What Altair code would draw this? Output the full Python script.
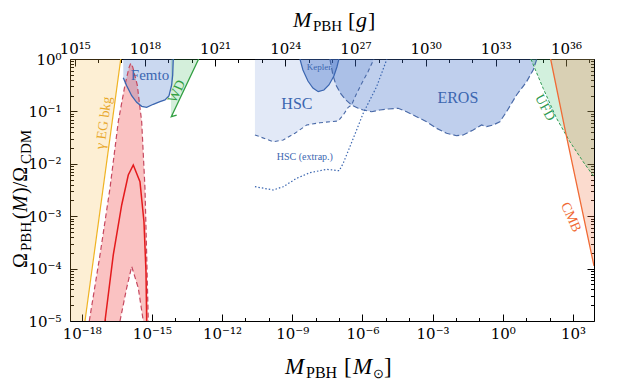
import altair as alt
import numpy as np
import pandas as pd

FONT = "Liberation Serif"
TICK_FONT = "DejaVu Serif"
MSUN_IN_GRAMS = 1.989e33
X_LOG_RANGE = [-18.5, 3.9]
Y_LOG_RANGE = [-5.0, 0.0]

# ---- data (log10 of M/Msun and log10 of f) ----
GAMMA_LOGM = [-17.86, -16.33]
GAMMA_LOGF = [-5.0, 0.0]

RED_OUT_LOGM = [-17.675, -17.218, -16.791, -16.436, -16.15, -15.98, -15.906, -15.82, -15.624, -15.436, -15.295, -15.222, -15.154]
RED_OUT_LOGF = [-5.0, -3.74, -2.466, -1.197, -0.496, -0.17, -0.082, -0.15, -0.496, -1.197, -2.466, -3.74, -5.0]
RED_HOLE_LOGM = [-16.363, -16.077, -15.863, -15.581, -15.368]
RED_HOLE_LOGF = [-5.0, -4.37, -3.96, -4.37, -5.0]
RED_MID_LOGM = [-17.004, -16.65, -16.29, -16.009, -15.795, -15.509, -15.338, -15.252, -15.222]
RED_MID_LOGF = [-5.0, -3.74, -2.786, -2.214, -2.023, -2.342, -3.105, -4.06, -5.0]

FEMTO_LOGM = [-16.222, -16.077, -15.863, -15.65, -15.436, -15.222, -14.94, -14.654, -14.44, -14.27, -14.154, -14.11, -14.085]
FEMTO_LOGF = [-0.357, -0.51, -0.70, -0.826, -0.903, -0.922, -0.864, -0.815, -0.782, -0.706, -0.496, -0.305, 0.0]

WD_FILL_LOGM = [-14.184, -13.0]
WD_FILL_LOGF = [-1.101, 0.0]
WD_LINE_LOGM = [-13.94, -14.17, -13.0]
WD_LINE_LOGF = [-1.069, -1.101, 0.0]

HSC_LOGM = [-10.594, -9.812, -9.385, -8.885, -8.385, -7.816, -7.034, -6.821, -6.607, -6.462, -6.278, -6.021, -5.765, -5.509]
HSC_LOGF = [-1.45, -1.578, -1.546, -1.418, -1.26, -1.216, -1.183, -1.069, -0.922, -0.878, -0.687, -0.458, -0.248, 0.0]

HSC_EXT_LOGM = [-10.594, -9.812, -9.385, -8.812, -8.244, -7.53, -6.991, -6.821, -6.534, -6.248, -5.966, -5.68, -5.393, -5.179, -4.996, -4.953]
HSC_EXT_LOGF = [-2.437, -2.5, -2.437, -2.277, -2.17, -2.105, -2.132, -1.99, -1.674, -1.355, -1.036, -0.782, -0.529, -0.273, -0.052, 0.0]

KEPLER_LOGM = [-8.671, -8.543, -8.329, -8.115, -7.889, -7.645, -7.432, -7.218, -7.09, -7.004]
KEPLER_LOGF = [0.0, -0.21, -0.42, -0.553, -0.624, -0.592, -0.496, -0.324, -0.153, 0.0]

EROS_LOGM = [-7.389, -7.261, -7.132, -6.919, -6.705, -6.462, -6.179, -5.966, -5.607, -5.252, -4.897, -4.47, -4.111,
             -3.684, -3.256, -2.829, -2.402, -1.974, -1.692, -1.265, -0.906, -0.692, -0.41, -0.124, 0.162, 0.59,
             1.017, 1.299, 1.457]
EROS_LOGF = [0.0, -0.305, -0.496, -0.668, -0.782, -0.878, -0.941, -0.973, -1.006, -0.973, -0.954, -0.941, -1.006,
             -1.101, -1.197, -1.323, -1.418, -1.464, -1.45, -1.355, -1.26, -1.292, -1.26, -1.197, -1.006, -0.687,
             -0.433, -0.21, 0.0]

UFD_LOGM = [1.2, 1.726, 2.299, 2.868, 3.436, 3.9]
UFD_LOGF = [0.0, -0.559, -1.132, -1.578, -1.96, -2.25]

CMB_LOGM = [2.046, 2.654, 3.9]
CMB_LOGF = [0.0, -1.33, -3.95]

# region labels: text, log10 M, log10 f
LABELS = [
    ("γ EG bkg", -17.05, -1.22),
    ("Femto", -15.08, -0.30),
    ("WD", -13.93, -0.62),
    ("Kepler", -7.86, -0.15),
    ("HSC", -8.80, -0.86),
    ("HSC (extrap.)", -8.46, -1.87),
    ("EROS", -1.92, -0.74),
    ("UFD", 1.80, -0.93),
    ("CMB", 2.91, -3.02),
]

X_TICK_EXP = list(range(-18, 4))
G_TICK_EXP = list(range(15, 38))
Y_TICK_EXP = list(range(-5, 1))
Y_MINOR_MULT = [2, 3, 4, 5, 6, 7, 8, 9]


def pw(v):
    return [10.0 ** a for a in v]


X_DOM = pw(X_LOG_RANGE)
Y_DOM = pw(Y_LOG_RANGE)
G_DOM = [d * MSUN_IN_GRAMS for d in X_DOM]

E = "round(log(datum.value)/LN10)"


def sup(expr):
    s = f"('' + {expr})"
    for a, b in zip("-0123456789", "⁻⁰¹²³⁴⁵⁶⁷⁸⁹"):
        s = f"replace({s}, regexp('{a}', 'g'), '{b}')"
    return s


x_label_expr = f"({E} % 3 == 0) ? '10' + {sup(E)} : ''"
y_label_expr = f"(abs(log(datum.value)/LN10 - {E}) < 0.01) ? '10' + {sup(E)} : ''"
x_minor = {"condition": {"test": f"{E} % 3 != 0", "value": [0, 3.5, 3.5, 40]}, "value": []}
y_minor = {"condition": {"test": f"abs(log(datum.value)/LN10 - {E}) > 0.01", "value": [0, 3.5, 3.5, 40]}, "value": []}

y_values = []
for e in Y_TICK_EXP:
    y_values.append(10.0 ** e)
    if e < 0:
        y_values += [m * 10.0 ** e for m in Y_MINOR_MULT]

AX = dict(domain=False, grid=False, tickColor="black", tickWidth=1, tickSize=7, offset=-7,
          labelFont=TICK_FONT, labelFontSize=15, labelColor="black", title=None,
          labelFlush=False, labelOverlap=False)

X_AX = alt.Axis(orient="bottom", values=pw(X_TICK_EXP), labelExpr=x_label_expr, tickDash=x_minor, labelPadding=5, **AX)
Y_AX = alt.Axis(orient="left", values=y_values, labelExpr=y_label_expr, tickDash=y_minor, labelPadding=9, **AX)
X_TOP = alt.Axis(orient="top", values=pw(G_TICK_EXP), labelExpr=x_label_expr, tickDash=x_minor, labelPadding=3, **AX)
Y_RIGHT = alt.Axis(orient="right", values=y_values, labels=False, tickDash=y_minor, **AX)

xscale = alt.Scale(type="log", domain=X_DOM, nice=False)
yscale = alt.Scale(type="log", domain=Y_DOM, nice=False)


def enc(ch, yfield):
    return ch.encode(x=alt.X("M:Q", scale=xscale, axis=X_AX), y=alt.Y(yfield, scale=yscale, axis=Y_AX))


def area(logm, lo, hi, color, opacity):
    df = pd.DataFrame({"M": pw(logm), "lo": pw(lo), "hi": pw(hi)})
    c = alt.Chart(df).mark_area(color=color, opacity=opacity, clip=True, orient="vertical")
    return enc(c, "lo:Q").encode(y2="hi:Q")


def line(logm, logf, color, width, dash=None):
    df = pd.DataFrame({"M": pw(logm), "f": pw(logf), "i": list(range(len(logm)))})
    kw = dict(color=color, strokeWidth=width, clip=True)
    if dash:
        kw["strokeDash"] = dash
    return enc(alt.Chart(df).mark_line(**kw), "f:Q").encode(order="i:O")


def const(v, n):
    return [v] * n


BLUE = "#3b66b0"
layers = [
    area([X_LOG_RANGE[0]] + GAMMA_LOGM, [-5.0] + GAMMA_LOGF, const(0.0, 3), "#f5b43c", 0.22),
    area(HSC_LOGM, HSC_LOGF, const(0.0, len(HSC_LOGM)), "#3c6ec8", 0.15),
    area(EROS_LOGM, EROS_LOGF, const(0.0, len(EROS_LOGM)), "#3c6ec8", 0.33),
    area(KEPLER_LOGM, KEPLER_LOGF, const(0.0, len(KEPLER_LOGM)), "#3c6ec8", 0.38),
    area(FEMTO_LOGM, FEMTO_LOGF, const(0.0, len(FEMTO_LOGM)), "#3c6ec8", 0.27),
    area(WD_FILL_LOGM, WD_FILL_LOGF, const(0.0, 2), "#3cb45a", 0.22),
    area(UFD_LOGM, UFD_LOGF, const(0.0, len(UFD_LOGM)), "#3cbe6e", 0.23),
    area(CMB_LOGM, CMB_LOGF, const(0.0, len(CMB_LOGM)), "#f06e3c", 0.25),
    area(RED_OUT_LOGM, const(-5.0, len(RED_OUT_LOGM)), RED_OUT_LOGF, "#f05050", 0.35),
    area(RED_HOLE_LOGM, const(-5.0, len(RED_HOLE_LOGM)), RED_HOLE_LOGF, "#ffffff", 1.0),
    line(GAMMA_LOGM, GAMMA_LOGF, "#f0b323", 1.2),
    line(RED_OUT_LOGM, RED_OUT_LOGF, "#c6485f", 1.2, [5, 3]),
    line(RED_HOLE_LOGM, RED_HOLE_LOGF, "#c6485f", 1.2, [5, 3]),
    line(RED_MID_LOGM, RED_MID_LOGF, "#e41a1c", 1.5),
    line(FEMTO_LOGM, FEMTO_LOGF, BLUE, 1.3),
    line(WD_LINE_LOGM, WD_LINE_LOGF, "#33a043", 1.3),
    line(HSC_LOGM, HSC_LOGF, "#4a6aa8", 1.1, [4, 3]),
    line(EROS_LOGM, EROS_LOGF, "#4a6aa8", 1.2, [6, 3]),
    line(KEPLER_LOGM, KEPLER_LOGF, BLUE, 1.2),
    line(HSC_EXT_LOGM, HSC_EXT_LOGF, BLUE, 1.2, [1.5, 2]),
    line(UFD_LOGM, UFD_LOGF, "#2f9a52", 1.0, [3, 2]),
    line(CMB_LOGM, CMB_LOGF, "#f06a35", 1.3),
]

LABEL_STYLE = {
    "γ EG bkg": dict(color="#e8a72a", fontSize=14, angle=278),
    "Femto": dict(color=BLUE, fontSize=15, angle=0),
    "WD": dict(color="#33a043", fontSize=14, angle=295),
    "Kepler": dict(color=BLUE, fontSize=9, angle=0),
    "HSC": dict(color=BLUE, fontSize=16, angle=0),
    "HSC (extrap.)": dict(color=BLUE, fontSize=10, angle=0),
    "EROS": dict(color=BLUE, fontSize=16, angle=0),
    "UFD": dict(color="#2f9a52", fontSize=14, angle=62),
    "CMB": dict(color="#f06a35", fontSize=14, angle=66),
}

for text, lm, lf in LABELS:
    df = pd.DataFrame({"M": [10.0 ** lm], "f": [10.0 ** lf], "t": [text]})
    st = LABEL_STYLE[text]
    c = alt.Chart(df).mark_text(font=FONT, align="center", baseline="middle", **st)
    layers.append(enc(c, "f:Q").encode(text="t:N"))


def ptext(text, x, y, size, style="normal", angle=0):
    c = alt.Chart(pd.DataFrame({"a": [0]})).mark_text(
        text=text, font=FONT, fontSize=size, fontStyle=style, angle=angle,
        align="left", baseline="alphabetic", color="black")
    return c.encode(x=alt.value(x), y=alt.value(y))


# bottom title  M_PBH [M_sun]
layers += [
    ptext("M", 215, 315, 23, "italic"),
    ptext("PBH", 236, 319, 16),
    ptext("[", 274, 315, 23),
    ptext("M", 283, 315, 23, "italic"),
    ptext("⊙", 303, 319, 13),
    ptext("]", 314, 315, 23),
]
# top title  M_PBH [g]
layers += [
    ptext("M", 223, -32, 22, "italic"),
    ptext("PBH", 243, -28, 15),
    ptext("[", 278, -32, 22),
    ptext("g", 286, -32, 22, "italic"),
    ptext("]", 298, -32, 22),
]
# y title  Omega_PBH(M)/Omega_CDM
layers += [
    ptext("Ω", -43, 209, 20, angle=270),
    ptext("PBH", -39, 192, 15, angle=270),
    ptext("(", -43, 160, 20, angle=270),
    ptext("M", -43, 153, 20, "italic", angle=270),
    ptext(")/Ω", -43, 135, 20, angle=270),
    ptext("CDM", -39, 105, 15, angle=270),
]

main = alt.layer(*layers)

dummy = alt.Chart(pd.DataFrame({"g": G_DOM, "f": Y_DOM})).mark_point(opacity=0).encode(
    x=alt.X("g:Q", scale=alt.Scale(type="log", domain=G_DOM, nice=False), axis=X_TOP),
    y=alt.Y("f:Q", scale=alt.Scale(type="log", domain=Y_DOM, nice=False), axis=Y_RIGHT),
)

chart = (
    alt.layer(main, dummy)
    .resolve_scale(x="independent", y="independent")
    .properties(width=524, height=262, autosize=alt.AutoSizeParams(type="none"),
                padding={"left": 62, "top": 51, "right": 18, "bottom": 64})
    .configure_view(stroke="black", strokeWidth=1)
)

chart.save("out.html", embed_options={"renderer": "svg", "actions": False})
